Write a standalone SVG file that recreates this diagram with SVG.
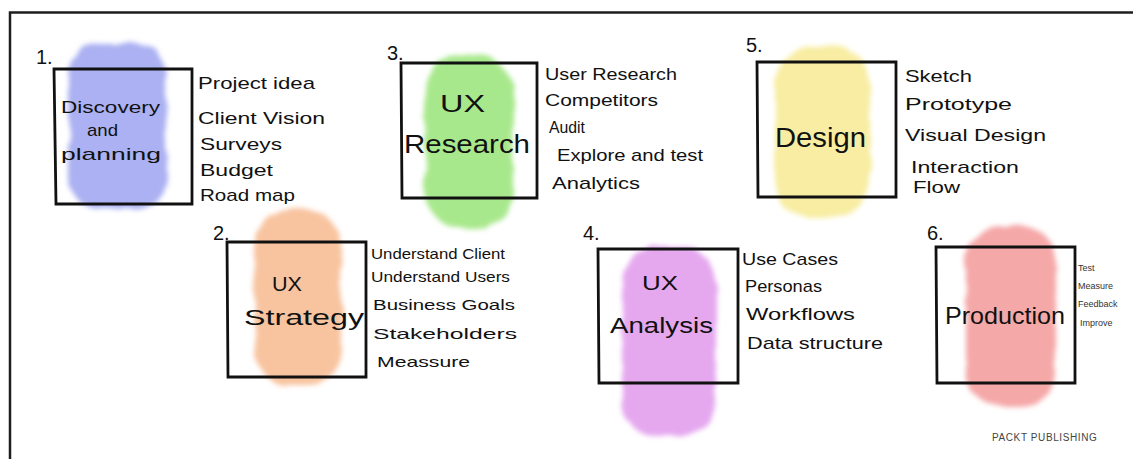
<svg xmlns="http://www.w3.org/2000/svg" width="1133" height="459" viewBox="0 0 1133 459">
<style>
.frame{fill:none;stroke:#1e1e1e;stroke-width:2.5}
.box{fill:none;stroke:#111;stroke-width:2.8;stroke-linecap:round}
.num{font-family:"Liberation Sans",Arial,sans-serif;font-size:20px;fill:#111}
.title{font-family:"Liberation Sans",Arial,sans-serif;fill:#111}
.item{font-family:"Liberation Sans",Arial,sans-serif;font-size:17px;fill:#111}
.item-s{font-family:"Liberation Sans",Arial,sans-serif;font-size:15px;fill:#111}
.item-xs{font-family:"Liberation Sans",Arial,sans-serif;font-size:9px;fill:#333}
.blob{filter:url(#chalk)}
</style>
<defs>
<filter id="chalk" x="-20%" y="-20%" width="140%" height="140%">
<feTurbulence type="fractalNoise" baseFrequency="0.04" numOctaves="2" seed="3" result="n"/>
<feDisplacementMap in="SourceGraphic" in2="n" scale="9" xChannelSelector="R" yChannelSelector="G" result="d"/>
<feGaussianBlur in="d" stdDeviation="2.5"/>
</filter>
</defs>
<rect width="1133" height="459" fill="#fff"/>
<path class="frame" d="M10,459 V12.5 H1133"/>

<g id="node-1">
<rect class="blob" x="69" y="42" width="98" height="168" rx="34" fill="#abb1f2"/>
<text class="num" x="36" y="64">1.</text>
<path class="box" d="M54,69 H192 V204 H56 Z"/>
<text class="title" font-size="17" x="61" y="113" textLength="99" lengthAdjust="spacingAndGlyphs">Discovery</text>
<text class="title" font-size="17" x="87" y="136" textLength="31" lengthAdjust="spacingAndGlyphs">and</text>
<text class="title" font-size="17" x="61" y="160" textLength="100" lengthAdjust="spacingAndGlyphs">planning</text>
<text class="item" x="198" y="89" textLength="117" lengthAdjust="spacingAndGlyphs">Project idea</text>
<text class="item" x="198" y="124" textLength="127" lengthAdjust="spacingAndGlyphs">Client Vision</text>
<text class="item" x="200" y="150" textLength="82" lengthAdjust="spacingAndGlyphs">Surveys</text>
<text class="item" x="200" y="176" textLength="73" lengthAdjust="spacingAndGlyphs">Budget</text>
<text class="item" x="200" y="201" textLength="95" lengthAdjust="spacingAndGlyphs">Road map</text>
</g>

<g id="node-2">
<rect class="blob" x="255" y="210" width="86" height="175" rx="34" fill="#f8c4a0"/>
<text class="num" x="213" y="240">2.</text>
<path class="box" d="M227,242 H366 V377 H228 Z"/>
<text class="title" font-size="20" x="272" y="291" textLength="30" lengthAdjust="spacingAndGlyphs">UX</text>
<text class="title" font-size="22" x="244" y="325" textLength="120" lengthAdjust="spacingAndGlyphs">Strategy</text>
<text class="item-s" x="371" y="259" textLength="134" lengthAdjust="spacingAndGlyphs">Understand Client</text>
<text class="item-s" x="371" y="282" textLength="139" lengthAdjust="spacingAndGlyphs">Understand Users</text>
<text class="item-s" x="373" y="310" textLength="142" lengthAdjust="spacingAndGlyphs">Business Goals</text>
<text class="item-s" x="373" y="339" textLength="144" lengthAdjust="spacingAndGlyphs">Stakeholders</text>
<text class="item-s" x="377" y="367" textLength="93" lengthAdjust="spacingAndGlyphs">Meassure</text>
</g>

<g id="node-3">
<rect class="blob" x="425" y="56" width="88" height="172" rx="34" fill="#a8e88c"/>
<text class="num" x="387" y="60">3.</text>
<path class="box" d="M401,63 H537 V198 H402 Z"/>
<text class="title" font-size="24" x="440" y="112" textLength="45" lengthAdjust="spacingAndGlyphs">UX</text>
<text class="title" font-size="25" x="404" y="153" textLength="126" lengthAdjust="spacingAndGlyphs">Research</text>
<text class="item" x="545" y="80" textLength="132" lengthAdjust="spacingAndGlyphs">User Research</text>
<text class="item" x="545" y="106" textLength="113" lengthAdjust="spacingAndGlyphs">Competitors</text>
<text class="item" x="549" y="133" textLength="36" lengthAdjust="spacingAndGlyphs">Audit</text>
<text class="item" x="557" y="161" textLength="146" lengthAdjust="spacingAndGlyphs">Explore and test</text>
<text class="item" x="552" y="189" textLength="88" lengthAdjust="spacingAndGlyphs">Analytics</text>
</g>

<g id="node-4">
<rect class="blob" x="622" y="246" width="94" height="190" rx="36" fill="#e5a8ef"/>
<text class="num" x="583" y="240">4.</text>
<path class="box" d="M598,249 H738 V383 H599 Z"/>
<text class="title" font-size="20" x="642" y="290" textLength="36" lengthAdjust="spacingAndGlyphs">UX</text>
<text class="title" font-size="22" x="610" y="333" textLength="103" lengthAdjust="spacingAndGlyphs">Analysis</text>
<text class="item" x="742" y="265" textLength="96" lengthAdjust="spacingAndGlyphs">Use Cases</text>
<text class="item" x="745" y="292" textLength="77" lengthAdjust="spacingAndGlyphs">Personas</text>
<text class="item" x="746" y="320" textLength="109" lengthAdjust="spacingAndGlyphs">Workflows</text>
<text class="item" x="747" y="349" textLength="136" lengthAdjust="spacingAndGlyphs">Data structure</text>
</g>

<g id="node-5">
<rect class="blob" x="775" y="46" width="95" height="172" rx="38" fill="#f8eda2"/>
<text class="num" x="746" y="52">5.</text>
<path class="box" d="M757,62 H896 V197 H758 Z"/>
<text class="title" font-size="28" x="775" y="147" textLength="91" lengthAdjust="spacingAndGlyphs">Design</text>
<text class="item" x="905" y="82" textLength="67" lengthAdjust="spacingAndGlyphs">Sketch</text>
<text class="item" x="905" y="110" textLength="107" lengthAdjust="spacingAndGlyphs">Prototype</text>
<text class="item" x="905" y="141" textLength="141" lengthAdjust="spacingAndGlyphs">Visual Design</text>
<text class="item" x="911" y="173" textLength="108" lengthAdjust="spacingAndGlyphs">Interaction</text>
<text class="item" x="913" y="193" textLength="47" lengthAdjust="spacingAndGlyphs">Flow</text>
</g>

<g id="node-6">
<rect class="blob" x="966" y="226" width="90" height="180" rx="34" fill="#f5a8a8"/>
<text class="num" x="927" y="240">6.</text>
<path class="box" d="M936,247 H1075 V383 H937 Z"/>
<text class="title" font-size="24" x="945" y="324" textLength="120" lengthAdjust="spacingAndGlyphs">Production</text>
<text class="item-xs" x="1078" y="271">Test</text>
<text class="item-xs" x="1078" y="289">Measure</text>
<text class="item-xs" x="1078" y="307">Feedback</text>
<text class="item-xs" x="1080" y="326">Improve</text>
</g>

<g id="connectors"></g>

<text x="992" y="441" font-family="Liberation Sans,Arial,sans-serif" font-size="10" fill="#444" letter-spacing="0.6">PACKT PUBLISHING</text>
</svg>
